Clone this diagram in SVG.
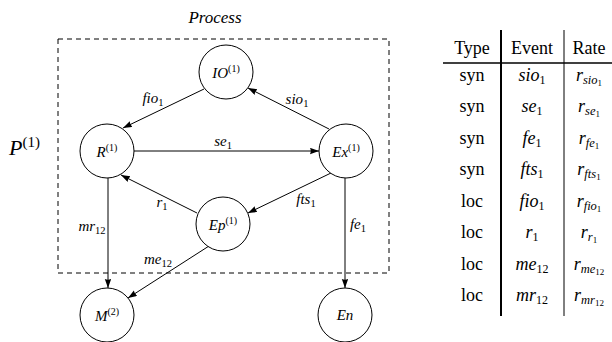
<svg xmlns="http://www.w3.org/2000/svg" width="612" height="342" viewBox="0 0 612 342">
  <style>
    text { font-family: "Liberation Serif", "DejaVu Serif", serif; fill: #000; }
    .node circle { fill: #fff; stroke: #000; stroke-width: 1; }
    .nl { font-size: 15px; font-style: italic; text-anchor: middle; }
    .el { font-size: 15px; font-style: italic; text-anchor: middle; }
    .sup { font-size: 10px; font-style: normal; }
    .sub { font-size: 10.5px; font-style: normal; }
    .edge { stroke: #000; stroke-width: 1; fill: none; marker-end: url(#head); }
    .tb { font-size: 18px; text-anchor: middle; }
    .tbi { font-size: 18px; font-style: italic; text-anchor: middle; }
    .tsub { font-size: 12px; font-style: normal; }
    .s1 { font-size: 12.5px; }
    .s2 { font-size: 9px; font-style: normal; }
  </style>
  <defs>
    <marker id="head" markerUnits="userSpaceOnUse" markerWidth="10" markerHeight="8" refX="9" refY="3.2" orient="auto">
      <path d="M0,0 L9,3.2 L0,6.4 Q1.5,3.2 0,0 Z" fill="#000"/>
    </marker>
  </defs>

  <!-- process boundary -->
  <rect x="58" y="39" width="331" height="234" fill="none" stroke="#000" stroke-width="1" stroke-dasharray="5 4"/>
  <text x="215" y="23" font-size="17" font-style="italic" text-anchor="middle">Process</text>
  <text x="9" y="155" font-size="22" font-style="italic">P<tspan font-size="15" font-style="normal" dy="-8">(1)</tspan></text>

  <!-- connectors -->
  <g id="connectors">
    <line class="edge" x1="204" y1="89" x2="123" y2="128"/>
    <line class="edge" x1="329" y1="129" x2="248" y2="88"/>
    <line class="edge" x1="134" y1="151" x2="319" y2="151"/>
    <line class="edge" x1="331" y1="173" x2="248" y2="213"/>
    <line class="edge" x1="197" y1="213" x2="121" y2="175"/>
    <line class="edge" x1="209" y1="246" x2="128" y2="298"/>
    <line class="edge" x1="108" y1="178" x2="108" y2="288"/>
    <line class="edge" x1="345" y1="178" x2="345" y2="288"/>

    <text class="el" x="153" y="103">fio<tspan class="sub" dy="3">1</tspan></text>
    <text class="el" x="297" y="104">sio<tspan class="sub" dy="3">1</tspan></text>
    <text class="el" x="223" y="146">se<tspan class="sub" dy="3">1</tspan></text>
    <text class="el" x="306" y="204">fts<tspan class="sub" dy="3">1</tspan></text>
    <text class="el" x="162" y="207">r<tspan class="sub" dy="3">1</tspan></text>
    <text class="el" x="158" y="264">me<tspan class="sub" dy="3">12</tspan></text>
    <text class="el" x="92" y="231">mr<tspan class="sub" dy="3">12</tspan></text>
    <text class="el" x="358" y="229">fe<tspan class="sub" dy="3">1</tspan></text>
  </g>

  <!-- nodes -->
  <g id="IO" class="node">
    <circle cx="226" cy="72" r="27"/>
    <text class="nl" x="226" y="78">IO<tspan class="sup" dy="-6">(1)</tspan></text>
  </g>
  <g id="R" class="node">
    <circle cx="107" cy="151" r="27"/>
    <text class="nl" x="107" y="157">R<tspan class="sup" dy="-6">(1)</tspan></text>
  </g>
  <g id="Ex" class="node">
    <circle cx="346" cy="151" r="27"/>
    <text class="nl" x="346" y="157">Ex<tspan class="sup" dy="-6">(1)</tspan></text>
  </g>
  <g id="Ep" class="node">
    <circle cx="223" cy="224" r="27"/>
    <text class="nl" x="223" y="230">Ep<tspan class="sup" dy="-6">(1)</tspan></text>
  </g>
  <g id="M" class="node">
    <circle cx="107" cy="315" r="27"/>
    <text class="nl" x="107" y="321">M<tspan class="sup" dy="-6">(2)</tspan></text>
  </g>
  <g id="En" class="node">
    <circle cx="345" cy="315" r="27"/>
    <text class="nl" x="345" y="320">En</text>
  </g>

  <!-- event table -->
  <g id="table">
    <line x1="501" y1="30" x2="501" y2="316" stroke="#000" stroke-width="2"/>
    <line x1="564" y1="30" x2="564" y2="316" stroke="#000" stroke-width="1"/>
    <line x1="443" y1="63" x2="612" y2="63" stroke="#000" stroke-width="1.6"/>

    <text class="tb" x="472" y="54">Type</text>
    <text class="tb" x="532" y="54">Event</text>
    <text class="tb" x="589" y="54">Rate</text>

    <text class="tb" x="472" y="81">syn</text>
    <text class="tbi" x="532" y="81">sio<tspan class="tsub" dy="3">1</tspan></text>
    <text class="tbi" x="589" y="81">r<tspan class="s1" dy="3">sio</tspan><tspan class="s2" dy="2">1</tspan></text>

    <text class="tb" x="472" y="112">syn</text>
    <text class="tbi" x="532" y="112">se<tspan class="tsub" dy="3">1</tspan></text>
    <text class="tbi" x="589" y="112">r<tspan class="s1" dy="3">se</tspan><tspan class="s2" dy="2">1</tspan></text>

    <text class="tb" x="472" y="144">syn</text>
    <text class="tbi" x="532" y="144">fe<tspan class="tsub" dy="3">1</tspan></text>
    <text class="tbi" x="589" y="144">r<tspan class="s1" dy="3">fe</tspan><tspan class="s2" dy="2">1</tspan></text>

    <text class="tb" x="472" y="175">syn</text>
    <text class="tbi" x="532" y="175">fts<tspan class="tsub" dy="3">1</tspan></text>
    <text class="tbi" x="589" y="175">r<tspan class="s1" dy="3">fts</tspan><tspan class="s2" dy="2">1</tspan></text>

    <text class="tb" x="472" y="207">loc</text>
    <text class="tbi" x="532" y="207">fio<tspan class="tsub" dy="3">1</tspan></text>
    <text class="tbi" x="589" y="207">r<tspan class="s1" dy="3">fio</tspan><tspan class="s2" dy="2">1</tspan></text>

    <text class="tb" x="472" y="238">loc</text>
    <text class="tbi" x="532" y="238">r<tspan class="tsub" dy="3">1</tspan></text>
    <text class="tbi" x="589" y="238">r<tspan class="s1" dy="3">r</tspan><tspan class="s2" dy="2">1</tspan></text>

    <text class="tb" x="472" y="270">loc</text>
    <text class="tbi" x="532" y="270">me<tspan class="tsub" dy="3">12</tspan></text>
    <text class="tbi" x="589" y="270">r<tspan class="s1" dy="3">me</tspan><tspan class="s2" dy="2">12</tspan></text>

    <text class="tb" x="472" y="301">loc</text>
    <text class="tbi" x="532" y="301">mr<tspan class="tsub" dy="3">12</tspan></text>
    <text class="tbi" x="589" y="301">r<tspan class="s1" dy="3">mr</tspan><tspan class="s2" dy="2">12</tspan></text>
  </g>
</svg>
